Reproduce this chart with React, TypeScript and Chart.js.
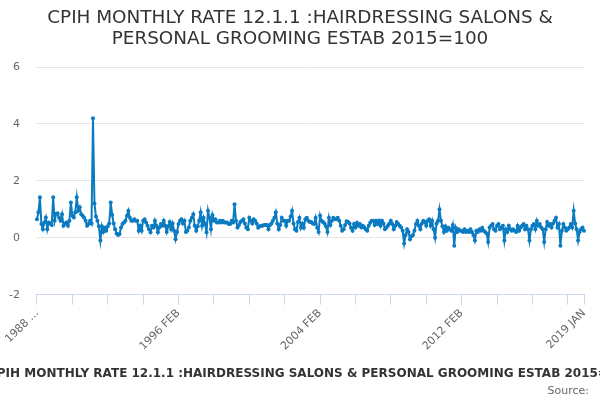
import React, { useEffect, useRef } from 'react';
import { Chart, registerables } from 'chart.js';

Chart.register(...registerables);

const TITLE_LINES = ['CPIH MONTHLY RATE 12.1.1 :HAIRDRESSING SALONS &', 'PERSONAL GROOMING ESTAB 2015=100'];
const AXIS_TITLE = 'CPIH MONTHLY RATE 12.1.1 :HAIRDRESSING SALONS & PERSONAL GROOMING ESTAB 2015=100';
const SOURCE_TEXT = 'Source:';

const MONTHS = ['JAN', 'FEB', 'MAR', 'APR', 'MAY', 'JUN', 'JUL', 'AUG', 'SEP', 'OCT', 'NOV', 'DEC'];
const START_YEAR = 1988;
const START_MONTH = 1; // FEB

const Y_TICKS = [-2, 0, 2, 4, 6];

// Monthly rate, % (Feb of first year .. Jan of next block)
const RATE_1988_1991 = [
  0.65, 0.9, 1.42, 0.48, 0.3, 0.54, 0.71, 0.3, 0.54, 0.5, 0.45, 1.42,
  0.6, 0.84, 0.86, 0.7, 0.6, 0.83, 0.42, 0.5, 0.54, 0.42, 0.6, 1.24,
  0.77, 0.71, 0.9, 1.42, 0.95, 1.07, 0.83, 0.77, 0.7, 0.6, 0.42, 0.48,
  0.6, 0.5, 4.2, 1.2, 0.75, 0.6, 0.4, -0.1, 0.4, 0.2, 0.35, 0.25,
];
const RATE_1992_1995 = [
  0.4, 0.5, 1.24, 0.8, 0.5, 0.3, 0.15, 0.1, 0.13, 0.36, 0.48, 0.54,
  0.6, 0.77, 0.95, 0.7, 0.6, 0.6, 0.65, 0.6, 0.6, 0.25, 0.42, 0.25,
  0.6, 0.65, 0.54, 0.42, 0.3, 0.19, 0.42, 0.36, 0.6, 0.42, 0.19, 0.36,
  0.48, 0.42, 0.6, 0.42, 0.2, 0.4, 0.55, 0.3, 0.5, 0.25, -0.05, 0.2,
];
const RATE_1996_1999 = [
  0.48, 0.6, 0.65, 0.5, 0.6, 0.2, 0.25, 0.36, 0.6, 0.7, 0.83, 0.42,
  0.25, 0.4, 0.6, 0.9, 0.42, 0.7, 0.48, 0.19, 0.95, 0.7, 0.3, 0.8,
  0.6, 0.65, 0.54, 0.54, 0.6, 0.54, 0.6, 0.54, 0.54, 0.54, 0.48, 0.48,
  0.6, 0.54, 1.18, 0.6, 0.36, 0.45, 0.55, 0.6, 0.65, 0.5, 0.36, 0.3,
];
const RATE_2000_2003 = [
  0.7, 0.6, 0.5, 0.65, 0.6, 0.5, 0.35, 0.4, 0.42, 0.42, 0.45, 0.45,
  0.45, 0.3, 0.45, 0.5, 0.6, 0.7, 0.9, 0.5, 0.3, 0.45, 0.7, 0.6,
  0.6, 0.42, 0.6, 0.6, 0.75, 0.95, 0.5, 0.3, 0.25, 0.55, 0.7, 0.35,
  0.5, 0.35, 0.65, 0.7, 0.6, 0.55, 0.55, 0.5, 0.48, 0.7, 0.35, 0.2,
];
const RATE_2004_2007 = [
  0.78, 0.6, 0.55, 0.5, 0.4, 0.2, 0.7, 0.45, 0.6, 0.7, 0.65, 0.65,
  0.7, 0.6, 0.42, 0.25, 0.3, 0.45, 0.58, 0.55, 0.5, 0.35, 0.25, 0.48,
  0.36, 0.53, 0.42, 0.48, 0.36, 0.42, 0.36, 0.3, 0.25, 0.42, 0.53, 0.6,
  0.6, 0.45, 0.6, 0.48, 0.6, 0.42, 0.6, 0.5, 0.3, 0.36, 0.42, 0.5,
];
const RATE_2008_2011 = [
  0.6, 0.48, 0.3, 0.42, 0.55, 0.48, 0.42, 0.36, 0.25, -0.2, 0.1, 0.3,
  0.2, -0.05, 0.05, 0.1, 0.25, 0.48, 0.6, 0.42, 0.3, 0.5, 0.6, 0.55,
  0.42, 0.6, 0.65, 0.42, 0.6, 0.3, 0.0, 0.5, 0.6, 1.0, 0.6, 0.4,
  0.2, 0.4, 0.25, 0.35, 0.3, 0.25, 0.45, -0.28, 0.35, 0.2, 0.3, 0.25,
];
const RATE_2012_2015 = [
  0.25, 0.2, 0.3, 0.2, 0.25, 0.2, 0.3, 0.2, 0.1, -0.1, 0.25, 0.2,
  0.3, 0.25, 0.35, 0.25, 0.2, 0.15, -0.15, 0.36, 0.42, 0.48, 0.3, 0.25,
  0.42, 0.48, 0.3, 0.36, 0.42, -0.1, 0.3, 0.2, 0.42, 0.3, 0.25, 0.3,
  0.25, 0.2, 0.42, 0.25, 0.36, 0.42, 0.48, 0.3, 0.42, 0.3, -0.1, 0.3,
];
const RATE_2016_2019 = [
  0.42, 0.48, 0.3, 0.6, 0.42, 0.48, 0.36, 0.3, -0.15, 0.3, 0.55, 0.42,
  0.48, 0.36, 0.5, 0.6, 0.7, 0.36, 0.48, -0.28, 0.25, 0.48, 0.36, 0.25,
  0.3, 0.36, 0.48, 0.36, 0.95, 0.5, 0.3, -0.1, 0.2, 0.3, 0.36, 0.25,
];

const VALUES = [
  ...RATE_1988_1991, ...RATE_1992_1995, ...RATE_1996_1999, ...RATE_2000_2003,
  ...RATE_2004_2007, ...RATE_2008_2011, ...RATE_2012_2015, ...RATE_2016_2019,
];

const CATEGORIES = VALUES.map((_, i) => {
  const m = START_MONTH + i;
  return `${START_YEAR + Math.floor(m / 12)} ${MONTHS[m % 12]}`;
});

const TICK_STEP = 24;
const LABEL_STEP = 96;

const FONT = '"DejaVu Sans", sans-serif';

const textPlugin = {
  id: 'chartTexts',
  afterDraw(chart: any) {
    const { ctx, width, height, chartArea } = chart;
    ctx.save();
    ctx.textBaseline = 'middle';
    // Main title
    ctx.fillStyle = '#333333';
    ctx.textAlign = 'center';
    ctx.font = `normal 18.4px ${FONT}`;
    ctx.fillText(TITLE_LINES[0], width / 2, 18);
    ctx.fillText(TITLE_LINES[1], width / 2, 39);
    // Axis title (overflows the canvas like the original)
    ctx.font = `bold 12px ${FONT}`;
    ctx.fillText(AXIS_TITLE, (chartArea.left + chartArea.right) / 2, height - 26);
    // Source
    ctx.fillStyle = '#666666';
    ctx.textAlign = 'right';
    ctx.font = `normal 11px ${FONT}`;
    ctx.fillText(SOURCE_TEXT, width - 11, height - 9);
    ctx.restore();
  },
};

export default function App() {
  const ref = useRef<HTMLCanvasElement | null>(null);

  useEffect(() => {
    if (!ref.current) return;
    const last = CATEGORIES.length - 1;
    const chart = new Chart(ref.current, {
      type: 'line',
      data: {
        labels: CATEGORIES,
        datasets: [
          {
            label: AXIS_TITLE,
            data: VALUES,
            borderColor: '#0b7bc1',
            backgroundColor: '#0b7bc1',
            borderWidth: 2,
            pointRadius: 2,
            pointBorderWidth: 0,
            pointHoverRadius: 3,
            tension: 0,
          },
        ],
      },
      plugins: [textPlugin],
      options: {
        animation: false,
        responsive: true,
        maintainAspectRatio: false,
        layout: { padding: { left: -8, right: 16, top: 67, bottom: 45 } },
        plugins: {
          legend: { display: false },
          tooltip: { enabled: false },
          title: { display: false },
        },
        scales: {
          x: {
            type: 'category',
            offset: false,
            afterBuildTicks: (scale: any) => {
              const ticks: { value: number }[] = [];
              for (let i = 0; i <= last; i += TICK_STEP) ticks.push({ value: i });
              if (ticks[ticks.length - 1].value !== last) ticks.push({ value: last });
              scale.ticks = ticks;
            },
            ticks: {
              autoSkip: false,
              maxRotation: 45,
              minRotation: 45,
              color: '#666666',
              font: { family: FONT, size: 11 },
              padding: 2,
              callback: (value: any) => {
                const v = Number(value);
                if (v === 0) return CATEGORIES[0].slice(0, 4) + ' ...';
                if (v % LABEL_STEP === 0 || v === last) return CATEGORIES[v];
                return '';
              },
            },
            grid: {
              display: true,
              drawOnChartArea: false,
              drawTicks: true,
              tickLength: 10,
              color: '#ccd6eb',
            },
            border: { display: true, color: '#ccd6eb' },
          },
          y: {
            min: -2,
            max: 6,
            afterBuildTicks: (scale: any) => {
              scale.ticks = Y_TICKS.map((v) => ({ value: v }));
            },
            ticks: {
              color: '#666666',
              font: { family: FONT, size: 11 },
              padding: 17,
            },
            grid: { color: '#e6e6e6', drawTicks: false },
            border: { display: false },
          },
        },
      },
    });
    return () => chart.destroy();
  }, []);

  return (
    <div style={{ position: 'fixed', left: 0, top: 0, width: 600, height: 400, background: '#fff' }}>
      <canvas ref={ref} />
    </div>
  );
}
